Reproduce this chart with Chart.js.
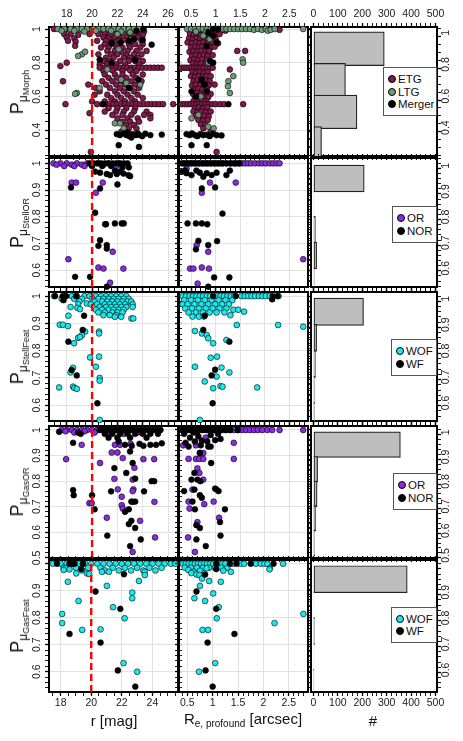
<!DOCTYPE html>
<html>
<head>
<meta charset="utf-8">
<title>P distributions</title>
<script src="https://cdn.jsdelivr.net/npm/chart.js@4.4.1/dist/chart.umd.min.js"></script>
<style>
  html, body { margin: 0; padding: 0; background: #fff; }
  body { position: relative; width: 463px; height: 741px; overflow: hidden; font-family: "Liberation Sans", Arial, sans-serif; color: #111; }
  canvas { position: absolute; }
  .ytitle { position: absolute; white-space: nowrap; transform: translate(-50%, -50%) rotate(-90deg); line-height: 1; }
  .ytitle .big { font-size: 18px; }
  .ytitle .s1 { font-size: 12px; position: relative; top: 4px; }
  .ytitle .s2 { font-size: 9px; position: relative; top: 2px; }
  .xtitle { position: absolute; white-space: nowrap; transform: translate(-50%, -50%); font-size: 15px; line-height: 1; }
  .xtitle .s1 { font-size: 10px; position: relative; top: 3px; }
  .legend { position: absolute; box-sizing: border-box; border: 1.5px solid #555; background: #fff; overflow: hidden;
            display: flex; flex-direction: column; justify-content: center; font-size: 11.5px; }
  .legend .item { display: flex; align-items: center; height: 12.5px; white-space: nowrap; }
  .legend .dot { width: 6px; height: 6px; border-radius: 50%; border: 0.8px solid #000; margin: 0 2px 0 4px; flex: none; }
</style>
</head>
<body>
<script>
// ---- tick values ----
const rTicks = [18, 20, 22, 24, 26];
const reTicks = [0.5, 1, 1.5, 2, 2.5];
const nTicks = [0, 100, 200, 300, 400, 500];
const pTicksMorph = [0.4, 0.6, 0.8, 1];
const pTicks = [0.5, 0.6, 0.7, 0.8, 0.9, 1];
const pLabelsGasFeat = [0.6, 0.7, 0.8, 0.9];   // the "1" of the last row sits under the "0.5" above it
const rCut = 20;

// ---- row 1: morphology ----
const morphEtgR = [
  [17.0,1.0],[17.9,0.995],[18.4,0.99],[18.8,0.995],[19.3,0.99],[19.6,0.995],[20.3,0.99],[20.8,0.995],[21.2,0.99],[21.6,0.995],[22.0,0.99],[22.5,0.995],[23.0,0.99],[23.4,0.995],[23.8,0.99],[24.1,0.985],
  [17.8,0.97],[18.3,0.97],[18.9,0.965],[19.8,0.97],[20.5,0.97],[21.0,0.975],[21.4,0.965],[21.9,0.97],[22.3,0.975],[22.8,0.965],[23.3,0.97],[23.7,0.975],[24.0,0.965],
  [18.0,0.95],[18.6,0.945],[20.9,0.95],[21.3,0.945],[21.8,0.95],[22.2,0.945],[22.7,0.95],[23.1,0.945],[23.6,0.95],
  [18.1,0.93],[18.7,0.925],[20.4,0.93],[21.1,0.93],[21.6,0.925],[22.1,0.93],[22.5,0.935],[23.2,0.93],[23.9,0.93],
  [18.66,0.9],[21.0,0.91],[21.5,0.91],[22.0,0.905],[22.9,0.91],[23.4,0.91],[24.0,0.91],
  [20.7,0.89],[21.3,0.89],[21.9,0.885],[22.4,0.89],[23.0,0.89],[23.8,0.89],
  [21.2,0.87],[21.8,0.87],[22.3,0.865],[22.8,0.87],[23.5,0.87],[24.3,0.87],
  [20.5,0.85],[21.5,0.85],[22.0,0.85],[22.7,0.845],[23.3,0.85],[23.9,0.85],
  [21.1,0.83],[21.7,0.83],[22.5,0.83],[23.0,0.83],[23.6,0.83],
  [18.0,0.8],[20.9,0.81],[21.4,0.81],[22.2,0.81],[22.9,0.81],[23.4,0.81],[24.0,0.81],
  [17.5,0.78],[20.6,0.79],[21.2,0.79],[21.9,0.79],[22.6,0.79],[23.7,0.79],
  [20.6,0.77],[21.0,0.77],[21.3,0.77],[21.6,0.77],[21.9,0.77],[22.2,0.77],[22.5,0.77],[22.8,0.77],[23.1,0.77],[23.4,0.77],[23.7,0.77],[24.0,0.77],[24.3,0.77],[24.6,0.77],[24.9,0.77],[25.2,0.77],[25.5,0.77],
  [20.9,0.75],[21.6,0.755],[22.4,0.75],[23.0,0.755],[23.5,0.75],
  [17.7,0.69],[21.0,0.73],[21.8,0.73],[22.4,0.73],[23.2,0.73],[24.0,0.73],
  [21.3,0.71],[22.0,0.71],[22.7,0.71],[23.5,0.71],
  [20.8,0.69],[21.6,0.69],[22.3,0.69],[23.1,0.69],[23.9,0.69],
  [19.7,0.67],[21.1,0.67],[21.9,0.67],[22.6,0.67],[23.4,0.67],
  [20.3,0.65],[21.4,0.65],[22.2,0.65],[23.0,0.65],[23.7,0.65],
  [20.6,0.63],[21.8,0.63],[22.5,0.63],[23.3,0.63],
  [20.2,0.61],[21.2,0.61],[22.0,0.61],[22.8,0.61],[23.6,0.61],
  [21.5,0.59],[22.3,0.59],[23.1,0.59],[24.0,0.59],
  [20.0,0.57],[21.0,0.57],[21.8,0.57],[22.6,0.57],[23.4,0.57],
  [17.9,0.554],[20.4,0.554],[20.8,0.554],[21.1,0.554],[21.4,0.554],[21.7,0.554],[22.0,0.554],[22.3,0.554],[22.6,0.554],[22.9,0.554],[23.2,0.554],[23.5,0.554],[23.8,0.554],[24.1,0.554],[24.4,0.554],[24.7,0.554],[25.0,0.554],[25.3,0.554],[25.6,0.554],[26.4,0.554],
  [21.3,0.53],[22.0,0.53],[22.7,0.53],[23.4,0.53],
  [19.8,0.5],[21.0,0.51],[21.9,0.51],[22.5,0.51],[23.3,0.51],[24.3,0.51],
  [21.6,0.49],[22.4,0.49],[23.1,0.49],[24.1,0.49],[24.6,0.49],
  [22.0,0.47],[22.8,0.47],[23.6,0.47],[24.6,0.47],
  [22.4,0.45],[23.0,0.45],[23.7,0.45],
  [22.7,0.43],[23.3,0.43],[22.9,0.41],[23.5,0.41],[22.3,0.39],
  [19.9,0.27]
];
const morphLtgR = [
  [17.3,1.0],[17.8,1.0],[18.3,1.0],[18.8,1.0],[19.2,1.0],[19.6,1.0],[20.1,1.0],[20.5,1.0],[20.9,1.0],[21.3,1.0],[21.7,1.0],[22.1,1.0],[22.5,1.0],[22.9,1.0],[23.3,1.0],[23.7,1.0],
  [17.6,0.99],[18.6,0.99],[19.4,0.985],[20.3,0.99],[21.5,0.99],[22.3,0.985],[22.0,0.97],[23.1,0.94],[23.0,0.98],
  [19.2,0.85],[19.45,0.865],[18.9,0.84],[22.1,0.88],[21.2,0.76],[22.3,0.7],[22.7,0.68],[23.8,0.67],[20.6,0.65],
  [18.8,0.62],[18.66,0.615],[21.8,0.44],[22.5,0.41],[22.2,0.44]
];
const morphMergerR = [
  [24.05,1.0],[23.5,0.99],[21.55,0.917],[22.26,0.92],[22.9,0.93],[24.7,0.907],[23.3,0.94],[24.0,0.935],
  [20.6,0.818],[21.55,0.8],[23.4,0.818],[23.65,0.7],[22.9,0.65],[20.9,0.554],
  [21.95,0.376],[22.2,0.37],[22.5,0.38],[22.7,0.37],[22.95,0.364],[23.2,0.376],[23.45,0.37],[23.7,0.372],[23.95,0.364],[24.2,0.378],[24.6,0.37],
  [22.8,0.386],[23.1,0.356],[23.6,0.38],[25.5,0.373],[22.1,0.31],[23.7,0.3]
];
const morphEtgRe = [
  [0.45,0.995],[0.53,0.99],[0.6,0.995],[0.67,0.99],[0.74,0.995],[0.81,0.99],[0.88,0.995],[0.95,0.99],[1.02,0.995],[1.1,0.99],[1.2,0.99],[2.3,0.995],
  [0.48,0.97],[0.56,0.965],[0.63,0.97],[0.7,0.965],[0.77,0.97],[0.85,0.965],[0.92,0.97],[0.99,0.965],[1.08,0.97],
  [0.46,0.945],[0.54,0.94],[0.62,0.945],[0.69,0.94],[0.76,0.945],[0.84,0.94],[0.91,0.945],[1.0,0.94],
  [0.43,0.92],[0.52,0.915],[0.6,0.92],[0.68,0.915],[0.75,0.92],[0.83,0.915],[0.94,0.92],[1.05,0.915],
  [0.5,0.89],[0.58,0.895],[0.66,0.89],[0.73,0.895],[0.81,0.89],[0.9,0.89],[0.98,0.895],
  [0.47,0.865],[0.55,0.87],[0.63,0.865],[0.71,0.87],[0.79,0.865],[0.87,0.87],[1.44,0.87],[1.6,0.87],
  [0.52,0.84],[0.6,0.845],[0.68,0.84],[0.76,0.845],[0.84,0.84],[0.94,0.845],
  [0.49,0.815],[0.57,0.82],[0.65,0.815],[0.73,0.82],[0.82,0.815],
  [0.54,0.795],[0.62,0.79],[0.7,0.795],[0.8,0.79],[0.92,0.795],
  [0.31,0.77],[0.36,0.77],[0.41,0.77],[0.46,0.77],[0.51,0.77],[0.56,0.77],[0.61,0.77],[0.66,0.77],[0.71,0.77],[0.76,0.77],[0.82,0.77],[0.88,0.77],[0.94,0.77],
  [0.53,0.745],[0.6,0.74],[0.68,0.745],[0.76,0.74],[0.84,0.745],[1.29,0.76],
  [0.5,0.72],[0.58,0.715],[0.66,0.72],[0.74,0.715],[0.82,0.72],[0.9,0.72],
  [0.55,0.69],[0.63,0.695],[0.71,0.69],[0.79,0.695],[0.88,0.69],
  [0.52,0.665],[0.6,0.67],[0.68,0.665],[0.77,0.67],[0.86,0.665],[0.98,0.67],
  [0.57,0.64],[0.65,0.645],[0.73,0.64],[0.82,0.645],
  [0.54,0.615],[0.62,0.62],[0.7,0.615],[0.79,0.62],[0.9,0.615],
  [0.58,0.59],[0.66,0.595],[0.75,0.59],[0.85,0.595],
  [0.55,0.57],[0.64,0.57],[0.72,0.575],[0.81,0.57],
  [0.31,0.554],[0.37,0.554],[0.43,0.554],[0.49,0.554],[0.55,0.554],[0.61,0.554],[0.67,0.554],[0.73,0.554],[0.79,0.554],[0.86,0.554],[0.93,0.554],[1.0,0.554],[1.09,0.554],[1.17,0.554],[1.56,0.554],
  [0.58,0.53],[0.66,0.535],[0.74,0.53],[0.83,0.535],
  [0.55,0.51],[0.63,0.505],[0.71,0.51],[0.8,0.505],[0.9,0.51],
  [0.6,0.485],[0.68,0.48],[0.77,0.485],[0.86,0.48],
  [0.65,0.46],[0.74,0.455],[0.84,0.46],
  [0.7,0.435],[0.79,0.43],[0.75,0.41],[0.9,0.39],
  [1.02,0.27]
];
const morphLtgRe = [
  [0.42,1.0],[0.5,1.0],[0.58,1.0],[0.66,1.0],[0.74,1.0],[0.82,1.0],[0.9,1.0],[0.98,1.0],[1.06,1.0],[1.14,1.0],[1.22,1.0],[1.3,1.0],[1.38,1.0],[1.46,1.0],[1.54,1.0],[1.62,1.0],[1.7,1.0],[1.78,0.995],[1.86,1.0],[1.94,0.995],[2.02,1.0],[2.06,0.99],[2.12,0.995],[2.2,1.0],[2.78,1.0],
  [0.6,0.985],[0.8,0.98],[0.75,0.96],[0.88,0.94],[1.55,0.82],[1.56,0.8],[1.36,0.72],[1.26,0.69],[1.25,0.66],[1.29,0.62],
  [0.85,0.8],[0.7,0.6],[0.51,0.47],[0.65,0.49],[0.85,0.42],[0.96,0.41]
];
const morphMergerRe = [
  [0.95,1.0],[1.05,1.0],[0.85,0.98],[0.95,0.96],[1.02,0.92],[0.82,0.9],[0.89,0.81],[0.95,0.8],[0.72,0.7],[0.78,0.67],[0.82,0.63],[0.51,0.63],[1.26,0.554],[0.6,0.6],
  [0.41,0.376],[0.47,0.37],[0.52,0.38],[0.58,0.37],[0.63,0.364],[0.69,0.376],[0.75,0.37],[0.82,0.372],[0.88,0.364],[0.95,0.378],[1.02,0.37],[1.12,0.368],[0.51,0.31],[0.82,0.31]
];
const morphBins = [0.9, 0.7, 0.5, 0.3];
const morphHist = [290, 131, 178, 33];

// ---- row 2: stellar OR ----
const stOrR = [
  [16.95,1.0],[17.5,1.0],[18.0,1.0],[18.4,0.995],[18.8,1.0],[19.2,0.995],[19.6,1.0],[20.0,0.995],[20.5,1.0],[20.9,0.995],[21.3,1.0],[21.7,0.995],[22.1,1.0],
  [17.2,0.995],[17.8,0.99],[18.6,0.99],[19.4,0.99],[21.9,0.99],
  [18.39,0.928],[18.74,0.928],[20.84,0.928],[20.3,0.89],[18.13,0.641],[21.63,0.669],[20.5,0.61],[20.9,0.606],[22.47,0.606],[21.42,0.553]
];
const stNorR = [
  [19.8,1.0],[20.1,1.0],[20.4,1.0],[20.7,1.0],[21.0,1.0],[21.3,1.0],[21.6,1.0],[21.9,1.0],[22.2,1.0],[22.5,1.0],[22.8,1.0],
  [20.0,0.99],[20.8,0.99],[21.5,0.99],[22.4,0.985],[22.9,0.985],
  [20.24,0.969],[20.63,0.965],[21.16,0.96],[21.42,0.956],[21.8,0.972],[21.95,0.96],[22.2,0.969],[22.47,0.962],[22.87,0.956],[23.0,0.952],
  [18.34,0.91],[20.63,0.906],[22.0,0.921],[20.24,0.815],[21.03,0.772],[21.1,0.772],[21.8,0.775],[22.34,0.775],[22.5,0.775],
  [20.63,0.712],[20.5,0.691],[21.16,0.694],[21.16,0.681],[18.66,0.575],[19.84,0.575],[21.16,0.538]
];
const stOrRe = [
  [0.35,1.0],[0.42,1.0],[0.5,1.0],[0.58,1.0],[0.66,1.0],[0.74,1.0],[0.82,1.0],[0.9,1.0],[0.98,1.0],[1.06,1.0],[1.14,1.0],[1.22,1.0],[1.3,1.0],[1.36,1.0],[1.42,1.0],[1.48,1.0],[1.54,1.0],[1.6,1.0],[1.66,1.0],[1.72,1.0],[1.8,1.0],[1.88,1.0],[1.95,1.0],[2.02,1.0],[2.1,1.0],[2.17,1.0],[2.24,1.0],[2.3,1.0],[0.41,0.98],
  [0.72,0.89],[0.885,0.928],[1.41,0.928],[0.615,0.694],[0.85,0.669],[0.48,0.606],[0.55,0.606],[0.72,0.61],[0.865,0.606],[0.635,0.55],[2.78,0.641]
];
const stNorRe = [
  [0.31,1.0],[0.37,1.0],[0.43,1.0],[0.49,1.0],[0.55,1.0],[0.61,1.0],[0.67,1.0],[0.73,1.0],[0.79,1.0],[0.85,1.0],[0.91,1.0],[0.97,1.0],[1.03,1.0],[1.09,1.0],[1.15,1.0],[1.22,1.0],[1.3,1.0],[1.4,1.0],[1.48,1.0],
  [0.33,0.969],[0.41,0.963],[0.51,0.956],[0.61,0.973],[0.68,0.965],[0.82,0.963],[0.92,0.956],[1.02,0.965],[1.22,0.956],[1.29,0.973],[0.38,0.973],[0.75,0.95],
  [0.72,0.906],[0.99,0.91],[1.14,0.812],[0.43,0.775],[0.6,0.775],[0.72,0.775],[0.83,0.772],[0.65,0.71],[0.6,0.678],[0.85,0.694],[1.03,0.709],[0.97,0.573],[1.28,0.573],[0.85,0.538]
];
const fineBins = [0.95, 0.85, 0.75, 0.65, 0.55];
const stOrHist = [208, 2, 8, 13, 4];

// ---- row 3: stellar features ----
const sfWofR = [
  [17.0,1.0],[17.9,1.0],[18.4,1.0],[18.8,1.0],[19.4,1.0],[19.8,1.0],[20.3,1.0],[20.7,1.0],[21.1,1.0],[21.5,1.0],[21.9,1.0],[22.3,1.0],[22.7,1.0],
  [17.6,0.99],[18.6,0.99],[19.2,0.99],[20.0,0.99],[20.5,0.99],[20.9,0.99],[21.3,0.99],[21.7,0.99],[22.1,0.99],[22.5,0.99],[22.9,0.99],
  [19.0,0.98],[20.2,0.98],[20.8,0.98],[21.2,0.98],[21.6,0.98],[22.0,0.98],[22.4,0.98],[22.8,0.98],[23.1,0.98],
  [18.9,0.97],[19.58,0.973],[19.9,0.97],[20.4,0.97],[21.0,0.97],[21.4,0.97],[21.8,0.97],[22.2,0.97],[22.6,0.97],[23.2,0.97],
  [18.3,0.96],[18.84,0.957],[19.05,0.952],[20.6,0.96],[21.1,0.96],[21.5,0.96],[21.9,0.96],[22.3,0.96],[22.7,0.96],[23.2,0.96],
  [20.3,0.95],[20.8,0.95],[21.3,0.95],[21.7,0.95],[22.1,0.95],[22.5,0.95],
  [20.5,0.94],[21.0,0.94],[21.6,0.94],[22.0,0.94],[22.4,0.94],
  [18.13,0.928],[20.9,0.93],[21.4,0.93],[21.9,0.93],
  [21.8,0.924],[22.3,0.924],[23.1,0.918],[23.25,0.918],
  [17.45,0.895],[17.7,0.895],[18.1,0.89],[19.45,0.87],[19.2,0.857],[18.9,0.847],[19.05,0.85],[18.58,0.827],[20.55,0.87],[20.55,0.863],
  [19.84,0.775],[20.55,0.778],[20.3,0.741],[18.5,0.737],[18.3,0.72],[20.6,0.7],[20.6,0.69],
  [17.4,0.665],[18.5,0.668],[18.6,0.663],[18.8,0.66],[20.6,0.546]
];
const sfWfR = [
  [17.08,1.0],[17.68,1.0],[17.95,1.0],[18.74,1.0],[17.74,0.985],[19.37,0.928],[19.26,0.876],[18.13,0.833],[18.39,0.729],[18.79,0.709],[20.42,0.607]
];
const sfWofRe = [
  [0.33,1.0],[0.4,1.0],[0.47,1.0],[0.54,1.0],[0.61,1.0],[0.68,1.0],[0.75,1.0],[0.82,1.0],[0.89,1.0],[1.03,1.0],[1.1,1.0],[1.17,1.0],[1.24,1.0],[1.31,1.0],[1.38,1.0],[1.52,1.0],[1.59,1.0],[1.66,1.0],[1.73,1.0],[1.8,1.0],[1.88,1.0],[1.95,1.0],[2.02,1.0],[2.1,1.0],[2.28,1.0],
  [0.36,0.985],[0.5,0.985],[0.64,0.985],[0.78,0.985],[0.92,0.985],[1.06,0.985],[1.2,0.985],[1.34,0.985],
  [0.33,0.97],[0.43,0.97],[0.57,0.97],[0.71,0.97],[0.85,0.97],[0.99,0.97],[1.13,0.97],[1.27,0.97],
  [0.38,0.955],[0.52,0.955],[0.66,0.955],[0.8,0.955],[0.94,0.955],[1.08,0.955],[1.22,0.955],[1.36,0.95],[1.46,0.95],
  [0.45,0.94],[0.6,0.94],[0.74,0.94],[0.88,0.94],[1.02,0.94],[1.18,0.94],[1.58,0.943],
  [0.53,0.925],[0.66,0.925],[0.76,0.925],[1.3,0.93],
  [1.43,0.894],[2.27,0.894],[2.78,0.888],[0.58,0.872],[0.72,0.863],[0.82,0.857],[0.85,0.845],[0.95,0.827],[1.22,0.839],
  [0.9,0.774],[1.03,0.778],[0.58,0.741],[1.12,0.738],[1.28,0.72],[1.02,0.705],[0.78,0.687],[1.1,0.67],[1.14,0.668],[0.95,0.662],[1.845,0.665],[0.68,0.546]
];
const sfWfRe = [
  [0.95,1.0],[1.41,1.0],[2.15,0.988],[2.16,1.0],[2.26,1.0],[0.78,0.928],[0.75,0.876],[1.28,0.833],[0.99,0.73],[0.92,0.709],[0.94,0.607]
];
const sfHist = [205, 13, 8, 6, 5];

// ---- row 4: gas OR ----
const goOrR = [
  [17.6,1.0],[18.0,1.0],[18.4,1.0],[18.8,1.0],[19.2,1.0],[19.6,1.0],[20.0,1.0],[20.4,1.0],[20.8,1.0],[21.3,1.0],[21.8,1.0],[22.2,1.0],[22.6,1.0],[23.0,1.0],
  [17.9,0.995],[18.6,0.99],[19.4,0.995],[20.2,0.99],[21.3,0.99],[22.5,0.985],[23.6,0.99],
  [19.18,0.942],[21.8,0.942],[22.2,0.942],[23.05,0.946],[21.55,0.912],[22.0,0.912],[22.42,0.89],[24.05,0.886],[24.9,0.886],[17.95,0.886],[20.63,0.871],[23.34,0.852],
  [21.76,0.809],[23.2,0.806],[22.03,0.768],[23.26,0.768],[23.2,0.761],[19.79,0.714],[19.97,0.714],[22.34,0.739],[22.34,0.706],[23.2,0.719],[24.92,0.719],
  [22.42,0.693],[21.16,0.657],[23.79,0.645],[24.97,0.58],[23.2,0.523]
];
const goNorR = [
  [17.4,0.993],[18.9,0.99],[19.1,0.985],
  [20.6,1.0],[20.9,1.0],[21.2,1.0],[21.5,1.0],[21.8,1.0],[22.1,1.0],[22.4,1.0],[22.7,1.0],[23.0,1.0],[23.3,1.0],[23.6,1.0],[23.9,1.0],[24.2,1.0],[24.5,1.0],[24.8,1.0],[25.1,1.0],[25.4,1.0],
  [21.0,0.985],[21.6,0.985],[22.2,0.985],[22.8,0.985],[23.4,0.985],[24.0,0.985],[24.6,0.985],[25.2,0.985],
  [21.3,0.97],[22.0,0.97],[23.0,0.97],[24.3,0.97],
  [18.5,0.95],[22.1,0.955],[22.6,0.942],[23.13,0.938],[23.74,0.946],[24.05,0.938],[24.6,0.942],[25.05,0.942],[25.5,0.948],[23.0,0.916],
  [23.2,0.871],[21.76,0.851],[22.7,0.832],[23.4,0.81],[24.7,0.8],[24.9,0.8],[21.5,0.76],[24.1,0.76],[18.5,0.765],[18.55,0.745],[20.0,0.745],
  [20.2,0.69],[22.9,0.69],[23.1,0.72],[23.4,0.72],[22.6,0.68],[22.9,0.632],[23.1,0.645],[23.4,0.617],[21.2,0.587],[23.84,0.572],[23.0,0.546]
];
const goOrRe = [
  [0.34,1.0],[0.42,1.0],[0.5,1.0],[0.58,1.0],[0.66,1.0],[0.74,1.0],[0.82,1.0],[0.9,1.0],[0.98,1.0],[1.06,1.0],[1.14,1.0],[1.22,1.0],[1.3,1.0],[1.38,1.0],[1.46,1.0],[1.54,1.0],[1.62,1.0],[1.7,1.0],[1.78,1.0],[1.86,1.0],[1.95,1.0],[2.05,1.0],[2.15,1.0],[2.3,1.0],[2.78,1.0],
  [0.34,0.94],[0.68,0.91],[0.75,0.91],[1.37,0.95],[1.37,0.887],[0.45,0.887],[0.6,0.887],[0.67,0.887],[0.75,0.887],[0.63,0.85],[0.67,0.832],[0.75,0.806],
  [0.53,0.767],[1.02,0.767],[0.45,0.72],[0.77,0.71],[0.96,0.72],[1.07,0.657],[0.63,0.64],[0.58,0.523],[0.44,0.58],[0.47,0.693],[0.6,0.94],[0.8,0.97]
];
const goNorRe = [
  [0.31,1.0],[0.37,1.0],[0.43,1.0],[0.49,1.0],[0.55,1.0],[0.61,1.0],[0.67,1.0],[0.73,1.0],[0.79,1.0],[0.85,1.0],[0.91,1.0],[0.97,1.0],[1.03,1.0],[1.1,1.0],[1.2,1.0],[1.3,1.0],[1.45,1.0],
  [0.39,0.95],[0.58,0.955],[0.72,0.958],[0.83,0.955],[0.99,0.96],[1.1,0.965],[0.48,0.97],[0.65,0.975],[0.9,0.98],[1.05,0.985],[0.55,0.99],[0.7,0.94],[0.45,0.935],[0.85,0.935],[0.9,0.935],[0.36,0.985],[0.62,0.99],
  [0.68,0.91],[0.91,0.871],[0.57,0.832],[0.51,0.806],[0.63,0.806],[0.69,0.8],[0.36,0.761],[0.57,0.767],[0.99,0.771],[1.06,0.761],[0.53,0.72],[0.68,0.745],[0.72,0.735],
  [0.58,0.69],[1.19,0.69],[1.09,0.64],[1.1,0.587],[0.61,0.628],[0.68,0.617],[0.61,0.572],[0.8,0.546]
];
const goHist = [356, 17, 15, 10, 5];

// ---- row 5: gas features ----
const gfWofR = [
  [17.49,1.0],[18.0,1.0],[18.4,1.0],[18.8,1.0],[19.2,1.0],[19.6,1.0],[20.0,1.0],[20.4,1.0],[20.8,1.0],[21.2,1.0],[21.6,1.0],[22.0,1.0],[22.4,1.0],[22.8,1.0],[23.2,1.0],[23.6,1.0],[24.0,1.0],[24.4,1.0],[24.8,1.0],[25.2,1.0],[25.5,1.0],
  [18.2,0.985],[19.0,0.985],[19.8,0.985],[20.6,0.985],[21.4,0.985],[22.2,0.985],[23.0,0.985],[23.8,0.985],[24.6,0.985],
  [18.32,0.983],[18.58,0.979],[18.2,0.977],[19.4,0.975],[20.9,0.975],[21.8,0.975],[22.6,0.975],[23.4,0.975],[24.2,0.975],
  [20.7,0.97],[21.15,0.97],[23.49,0.97],[19.02,0.964],[19.72,0.964],[19.87,0.962],[23.5,0.958],
  [18.47,0.933],[23.12,0.936],[21.02,0.918],[22.68,0.893],[22.68,0.872],[19.17,0.862],[18.1,0.814],[18.1,0.78],[21.42,0.839],[22.18,0.798],
  [19.41,0.755],[20.61,0.757],[22.11,0.632],[23.0,0.6]
];
const gfWfR = [
  [17.76,1.0],[18.58,1.0],[18.76,1.0],[18.9,1.0],[19.46,1.0],[19.35,0.98],[22.14,0.961],[20.28,0.897],[21.9,0.833],[18.58,0.74],[20.61,0.708],[21.74,0.605],[22.88,0.545]
];
const gfWofRe = [
  [0.41,1.0],[0.47,1.0],[0.53,1.0],[0.59,1.0],[0.65,1.0],[0.71,1.0],[0.77,1.0],[0.83,1.0],[0.89,1.0],[0.95,1.0],[1.01,1.0],[1.13,1.0],[1.19,1.0],[1.25,1.0],[1.4,1.0],[1.55,1.0],[1.62,1.0],[1.85,1.0],[1.95,1.0],[2.02,1.0],[2.08,1.0],[2.39,1.0],
  [0.45,0.985],[0.57,0.985],[0.69,0.985],[0.81,0.985],[0.93,0.985],[1.05,0.985],[1.17,0.985],[1.29,0.985],
  [0.52,0.977],[0.62,0.97],[0.75,0.974],[0.88,0.983],[1.21,0.974],[1.36,0.97],[2.13,0.983],[2.12,0.979],[0.58,0.965],[0.68,0.96],
  [0.74,0.958],[0.79,0.945],[0.93,0.936],[1.16,0.933],[0.75,0.918],[0.64,0.872],[0.85,0.862],[1.01,0.89],[1.12,0.839],[1.08,0.798],[2.79,0.814],[2.22,0.78],
  [0.8,0.755],[0.91,0.755],[1.05,0.632],[0.73,0.6]
];
const gfWfRe = [
  [1.07,1.0],[1.34,1.0],[1.47,1.0],[1.75,1.0],[2.2,1.0],[1.07,0.98],[0.85,0.96],[0.68,0.897],[1.07,0.833],[1.43,0.74],[0.9,0.708],[0.86,0.605],[1.0,0.545]
];
const gfHist = [384, 2, 5, 2, 1];

// ---- layout / look ----
const PAD = 30;
const colEdges = [[49, 178], [179, 308], [311, 437]];
const rowEdges = [[27, 156], [158, 287], [292, 421], [426, 558], [560, 692]];
const rRange = [[16.6, 26.78], [16.6, 26.78], [16.6, 26.78], [16.6, 26.78], [17.24, 25.67]];
const reRange = [[0.256, 2.878], [0.256, 2.878], [0.256, 2.878], [0.256, 2.878], [0.336, 2.88]];
const nRange = [-10, 506];
const pRange = [[0.246, 1.012], [0.537, 1.02], [0.542, 1.015], [0.4995, 1.0156], [0.525, 1.0137]];
const col = { etg: '#7e1c4b', ltg: '#6f9a78', blk: '#000000', or: '#8b2be0', wof: '#19e8ec' };

Chart.defaults.font.family = '"Liberation Sans", Arial, sans-serif';
Chart.defaults.animation = false;

const rows = [
  { name: 'Morph', majors: pTicksMorph, labels: pTicksMorph, minor: 0.05, binStep: 0.2, bins: morphBins, hist: morphHist,
    groups: [['ETG', col.etg, morphEtgR, morphEtgRe], ['LTG', col.ltg, morphLtgR, morphLtgRe], ['Merger', col.blk, morphMergerR, morphMergerRe]],
    legend: [383, 67, 437, 116] },
  { name: 'StellOR', majors: pTicks, labels: pTicks, minor: 0.02, binStep: 0.1, bins: fineBins, hist: stOrHist,
    groups: [['OR', col.or, stOrR, stOrRe], ['NOR', col.blk, stNorR, stNorRe]],
    legend: [392, 206, 437, 243] },
  { name: 'StellFeat', majors: pTicks, labels: pTicks, minor: 0.02, binStep: 0.1, bins: fineBins, hist: sfHist,
    groups: [['WOF', col.wof, sfWofR, sfWofRe], ['WF', col.blk, sfWfR, sfWfRe]],
    legend: [391, 339, 437, 376] },
  { name: 'GasOR', majors: pTicks, labels: pTicks, minor: 0.02, binStep: 0.1, bins: fineBins, hist: goHist,
    groups: [['OR', col.or, goOrR, goOrRe], ['NOR', col.blk, goNorR, goNorRe]],
    legend: [393, 473, 437, 510] },
  { name: 'GasFeat', majors: pTicks, labels: pLabelsGasFeat, minor: 0.02, binStep: 0.1, bins: fineBins, hist: gfHist,
    groups: [['WOF', col.wof, gfWofR, gfWofRe], ['WF', col.blk, gfWfR, gfWfRe]],
    legend: [391, 607, 437, 643] }
];

function stepTicks(lo, hi, step) {
  const out = [];
  for (let k = Math.ceil(lo / step - 1e-6); k * step <= hi + 1e-6; k++) out.push(Number((k * step).toFixed(4)));
  return out;
}
function near(v, list) { return list.some(m => Math.abs(m - v) < 1e-6); }

function axis(pos, range, majors, step, o) {
  const horiz = pos === 'top' || pos === 'bottom';
  const shown = o.shown || majors;
  return {
    type: 'linear', position: pos, min: range[0], max: range[1],
    afterBuildTicks: s => { s.ticks = stepTicks(range[0], range[1], step).map(v => ({ value: v })); },
    afterFit: s => { if (horiz) s.height = PAD; else s.width = PAD; },
    border: { display: true, color: '#000', width: 2 },
    grid: {
      drawOnChartArea: !!o.grid,
      color: c => (o.grid && c.tick && near(c.tick.value, majors)) ? '#e2e2e2' : 'rgba(0,0,0,0)',
      lineWidth: 1,
      drawTicks: true, tickLength: 4, tickColor: '#000',
      tickWidth: c => (c.tick && near(c.tick.value, majors)) ? 1.3 : 0.9
    },
    ticks: {
      autoSkip: false,
      minRotation: horiz ? 0 : 90, maxRotation: horiz ? 0 : 90,
      crossAlign: horiz ? 'near' : 'center',
      padding: o.pad || 0,
      color: '#1a1a1a',
      font: { size: 10.5 },
      callback: v => (o.labels && near(v, shown)) ? String(v) : ''
    }
  };
}

function addCanvas(ri, ci, cfg) {
  const [l, r] = colEdges[ci], [t, b] = rowEdges[ri];
  const cv = document.createElement('canvas');
  const w = r - l + 2 * PAD, h = b - t + 2 * PAD;
  cv.width = w; cv.height = h;
  cv.style.left = (l - PAD) + 'px'; cv.style.top = (t - PAD) + 'px';
  cv.style.width = w + 'px'; cv.style.height = h + 'px';
  document.body.appendChild(cv);
  cfg.options.responsive = false;
  cfg.options.devicePixelRatio = 1;
  cfg.options.events = [];
  cfg.options.layout = { padding: 0 };
  cfg.options.plugins = { legend: { display: false }, tooltip: { enabled: false } };
  new Chart(cv, cfg);
}

function scatterPanel(ri, ci) {
  const row = rows[ri];
  const isR = ci === 0;
  const xr = isR ? rRange[ri] : reRange[ri];
  const xm = isR ? rTicks : reTicks;
  const xs = isR ? 0.5 : 0.1;
  const datasets = row.groups.map((g, i) => ({
    data: isR ? g[2] : g[3],
    backgroundColor: g[1], borderColor: '#000', borderWidth: 0.6,
    pointRadius: 2.9, pointHoverRadius: 2.9,
    order: row.groups.length - i, clip: false
  }));
  if (isR) {
    datasets.push({
      data: [[rCut, pRange[ri][0]], [rCut, pRange[ri][1]]],
      showLine: true, borderColor: '#ff0000', borderWidth: 2.4, borderDash: [7, 4],
      pointRadius: 0, order: 0
    });
  }
  addCanvas(ri, ci, {
    type: 'scatter',
    data: { datasets },
    options: {
      scales: {
        x: axis('bottom', xr, xm, xs, { grid: true, labels: ri === 4, pad: 1 }),
        xt: axis('top', xr, xm, xs, { labels: ri === 0, pad: 3 }),
        y: axis('left', pRange[ri], row.majors, row.minor, { grid: true, labels: ci === 0, shown: row.labels, pad: 0.5 }),
        yr: axis('right', pRange[ri], row.majors, row.minor, { labels: false })
      }
    }
  });
}

function histPanel(ri) {
  const row = rows[ri];
  const pr = pRange[ri];
  const [t, b] = rowEdges[ri];
  // one bin in pixels, so each bar fills its bin exactly
  const binPx = (b - t) * row.binStep / (pr[1] - pr[0]);
  addCanvas(ri, 2, {
    type: 'bar',
    data: {
      datasets: [{
        data: row.bins.map((c, i) => ({ x: row.hist[i], y: c })),
        backgroundColor: '#bebebe', borderColor: '#222', borderWidth: 1.2, borderSkipped: false,
        barThickness: binPx, clip: 0,
        xAxisID: 'x', yAxisID: 'y'
      }]
    },
    options: {
      indexAxis: 'y',
      scales: {
        x: axis('bottom', nRange, nTicks, 20, { labels: ri === 4, pad: 1 }),
        xt: axis('top', nRange, nTicks, 20, { labels: ri === 0, pad: 3 }),
        y: axis('left', pr, row.majors, row.minor, { labels: false }),
        yr: axis('right', pr, row.majors, row.minor, { labels: true, shown: row.labels, pad: -2.5 })
      }
    }
  });
}

rows.forEach((row, ri) => {
  scatterPanel(ri, 0);
  scatterPanel(ri, 1);
  histPanel(ri);

  const [t, b] = rowEdges[ri];
  const yt = document.createElement('div');
  yt.className = 'ytitle';
  yt.style.left = '17px';
  yt.style.top = ((t + b) / 2) + 'px';
  yt.innerHTML = '<span class="big">P</span><span class="s1">μ<span class="s2">' + row.name + '</span></span>';
  document.body.appendChild(yt);

  const [lx0, ly0, lx1, ly1] = row.legend;
  const lg = document.createElement('div');
  lg.className = 'legend';
  lg.style.left = lx0 + 'px'; lg.style.top = ly0 + 'px';
  lg.style.width = (lx1 - lx0) + 'px'; lg.style.height = (ly1 - ly0) + 'px';
  row.groups.forEach(g => {
    const it = document.createElement('div');
    it.className = 'item';
    it.innerHTML = '<span class="dot" style="background:' + g[1] + '"></span><span>' + g[0] + '</span>';
    lg.appendChild(it);
  });
  document.body.appendChild(lg);
});

[['r [mag]', 114, 720], ['R<span class="s1">e, profound</span> [arcsec]', 243, 718], ['#', 373, 720]].forEach(([html, x, y]) => {
  const d = document.createElement('div');
  d.className = 'xtitle';
  d.style.left = x + 'px'; d.style.top = y + 'px';
  d.innerHTML = html;
  document.body.appendChild(d);
});
</script>
</body>
</html>
